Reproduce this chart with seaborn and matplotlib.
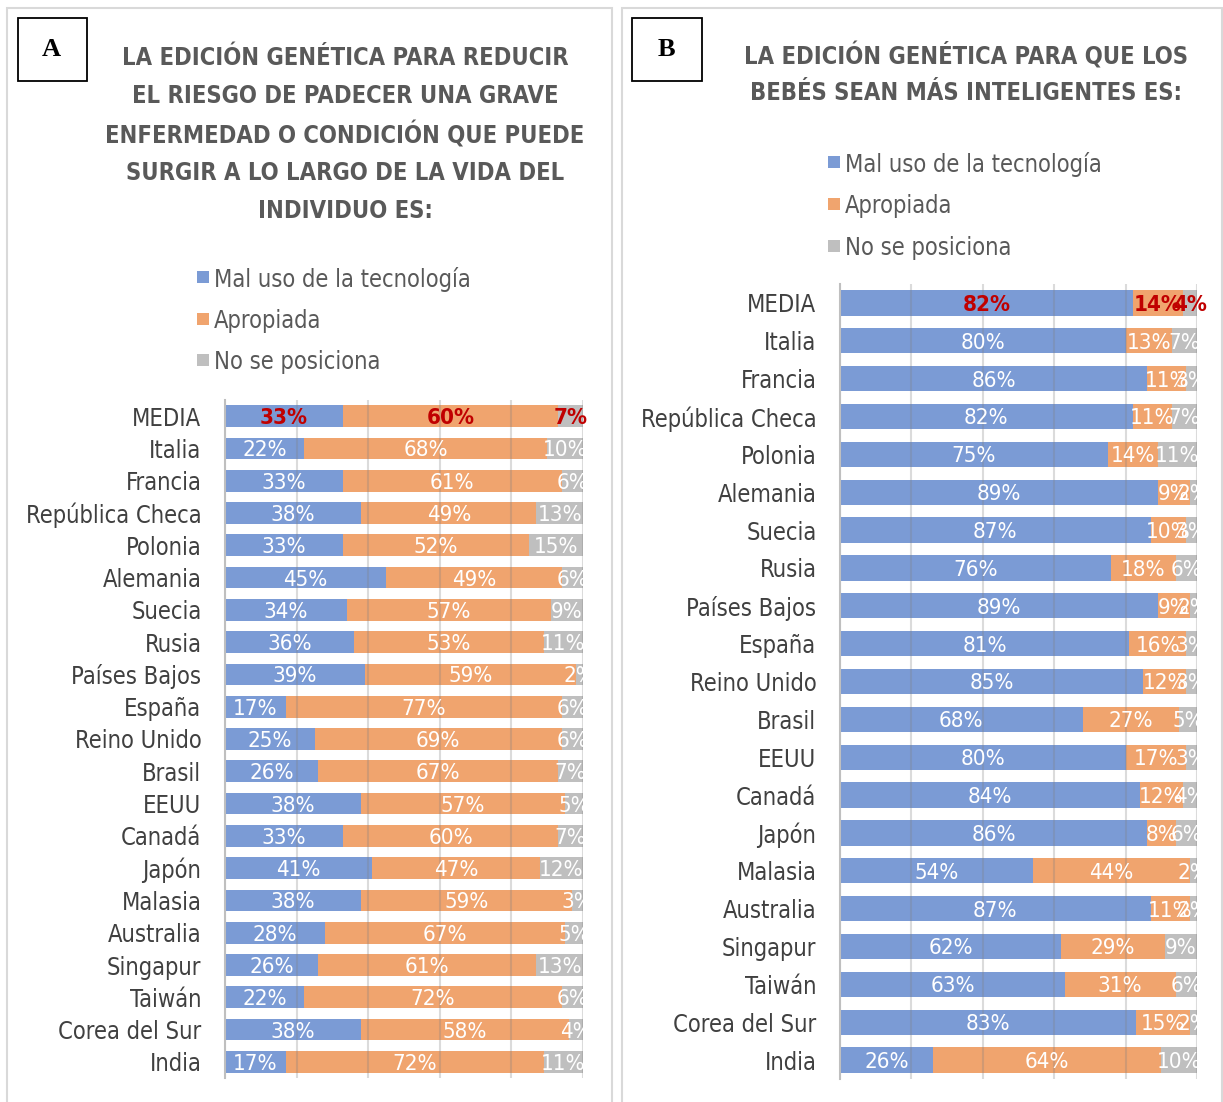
import matplotlib
matplotlib.use("Agg")
import numpy as np
import pandas as pd
import seaborn as sns
import matplotlib.pyplot as plt
from matplotlib.patches import Rectangle
from matplotlib import font_manager as fm

# ---------------- data ----------------
countries = ["MEDIA", "Italia", "Francia", "República Checa", "Polonia", "Alemania",
             "Suecia", "Rusia", "Países Bajos", "España", "Reino Unido", "Brasil",
             "EEUU", "Canadá", "Japón", "Malasia", "Australia", "Singapur",
             "Taiwán", "Corea del Sur", "India"]

mal_a = [33, 22, 33, 38, 33, 45, 34, 36, 39, 17, 25, 26, 38, 33, 41, 38, 28, 26, 22, 38, 17]
apro_a = [60, 68, 61, 49, 52, 49, 57, 53, 59, 77, 69, 67, 57, 60, 47, 59, 67, 61, 72, 58, 72]
nopos_a = [7, 10, 6, 13, 15, 6, 9, 11, 2, 6, 6, 7, 5, 7, 12, 3, 5, 13, 6, 4, 11]

mal_b = [82, 80, 86, 82, 75, 89, 87, 76, 89, 81, 85, 68, 80, 84, 86, 54, 87, 62, 63, 83, 26]
apro_b = [14, 13, 11, 11, 14, 9, 10, 18, 9, 16, 12, 27, 17, 12, 8, 44, 11, 29, 31, 15, 64]
nopos_b = [4, 7, 3, 7, 11, 2, 3, 6, 2, 3, 3, 5, 3, 4, 6, 2, 2, 9, 6, 2, 10]

series_names = ["Mal uso de la tecnología", "Apropiada", "No se posiciona"]

title_a = ["LA EDICIÓN GENÉTICA PARA REDUCIR",
           "EL RIESGO DE PADECER UNA GRAVE",
           "ENFERMEDAD O CONDICIÓN QUE PUEDE",
           "SURGIR A LO LARGO DE LA VIDA DEL",
           "INDIVIDUO ES:"]
title_b = ["LA EDICIÓN GENÉTICA PARA QUE LOS",
           "BEBÉS SEAN MÁS INTELIGENTES ES:"]

# ---------------- style ----------------
BLUE = "#7B9BD5"
ORANGE = "#F0A46E"
GRAY = "#BFBFBF"
RED = "#C00000"
TXT = "#404040"
TTL = "#595959"

sns.set_style("white")
names = {f.name for f in fm.fontManager.ttflist}
has_cond = any(f.name == "DejaVu Sans" and "condensed" in str(f.stretch) for f in fm.fontManager.ttflist)
BODY = "DejaVu Sans"
STRETCH = "condensed" if has_cond else "normal"
SERIF = "Liberation Serif" if "Liberation Serif" in names else "DejaVu Serif"
plt.rcParams["font.family"] = [BODY]

W, H = 1223, 1102
fig = plt.figure(figsize=(W / 100, H / 100), dpi=100)


def fx(x):
    return x / W


def fy(y):
    return 1 - y / H


# panel borders
for x0, x1 in [(7, 612), (622, 1222)]:
    fig.patches.append(Rectangle((fx(x0), fy(1110)), fx(x1 - x0), (1110 - 8) / H,
                                 transform=fig.transFigure, fill=False,
                                 edgecolor="#D9D9D9", lw=1.5, zorder=0))

# letter boxes
for x0, x1, letter in [(18, 87, "A"), (632, 702, "B")]:
    fig.patches.append(Rectangle((fx(x0), fy(81)), fx(x1 - x0), (81 - 18) / H,
                                 transform=fig.transFigure, fill=False,
                                 edgecolor="black", lw=1.3))
    fig.text(fx((x0 + x1) / 2 - 1), fy(49), letter, ha="center", va="center",
             fontsize=19, fontweight="bold", family=SERIF, color="black")

# titles
for i, line in enumerate(title_a):
    fig.text(fx(345), fy(58 + i * 38.3), line, ha="center", va="center",
             fontsize=17, fontweight="bold", family=BODY, stretch=STRETCH, color=TTL)
for i, line in enumerate(title_b):
    fig.text(fx(966), fy(56 + i * 37.5), line, ha="center", va="center",
             fontsize=17, fontweight="bold", family=BODY, stretch=STRETCH, color=TTL)


def legend(x, y0, step):
    for i, (c, name) in enumerate(zip((BLUE, ORANGE, GRAY), series_names)):
        fig.patches.append(Rectangle((fx(x), fy(y0 + i * step + 6)), fx(12), 12 / H,
                                     transform=fig.transFigure, facecolor=c,
                                     edgecolor="none"))
        fig.text(fx(x + 17), fy(y0 + i * step), name, ha="left", va="center_baseline",
                 fontsize=17, family=BODY, stretch=STRETCH, color=TTL)


legend(197, 277, 41.5)
legend(828, 162, 42)


def panel(rect, mal, apro, nopos, bar_frac):
    ax = fig.add_axes(rect)
    df = pd.DataFrame({"pais": countries, "mal": mal, "apro": apro, "no": nopos})
    df["c1"] = df["mal"]
    df["c2"] = df["mal"] + df["apro"]
    df["c3"] = df["c2"] + df["no"]
    for col, colr in (("c3", GRAY), ("c2", ORANGE), ("c1", BLUE)):
        sns.barplot(data=df, x=col, y="pais", orient="h", color=colr, saturation=1,
                    width=bar_frac, errorbar=None, linewidth=0, ax=ax, zorder=1)
    ax.set_xlim(0, 100)
    ax.set_ylim(len(countries) - 0.5, -0.5)
    ax.set_xticks(np.arange(0, 101, 20))
    ax.set_axisbelow(False)
    ax.grid(axis="x", color="#808080", alpha=0.28, lw=1.5)
    ax.grid(axis="y", visible=False)
    ax.set_xlabel("")
    ax.set_ylabel("")
    ax.tick_params(axis="x", length=0, labelbottom=False)
    ax.tick_params(axis="y", length=0, pad=17, labelsize=17, labelcolor=TXT)
    for lab in ax.get_yticklabels():
        lab.set_fontstretch(STRETCH)
    for s in ("top", "right", "bottom"):
        ax.spines[s].set_visible(False)
    ax.spines["left"].set_color("#BFBFBF")
    ax.spines["left"].set_linewidth(1.5)
    ax.spines["left"].set_zorder(5)
    ax.patch.set_alpha(0)

    for i in range(len(countries)):
        starts = [0, mal[i], mal[i] + apro[i]]
        vals = [mal[i], apro[i], nopos[i]]
        for s, v in zip(starts, vals):
            if i == 0:
                ax.text(s + v / 2, i, f"{v}%", ha="center", va="center_baseline",
                        fontsize=16, fontweight="bold", color=RED, stretch=STRETCH,
                        clip_on=False, zorder=6)
            else:
                ax.text(s + v / 2, i, f"{v}%", ha="center", va="center_baseline",
                        fontsize=16, color="white", stretch=STRETCH,
                        clip_on=True, zorder=6)
    return ax


panel([fx(225), fy(1078), fx(583 - 225), (1078 - 400) / H], mal_a, apro_a, nopos_a, 0.67)
panel([fx(840), fy(1079), fx(1197 - 840), (1079 - 284) / H], mal_b, apro_b, nopos_b, 0.67)

fig.savefig("out.png", dpi=100)
